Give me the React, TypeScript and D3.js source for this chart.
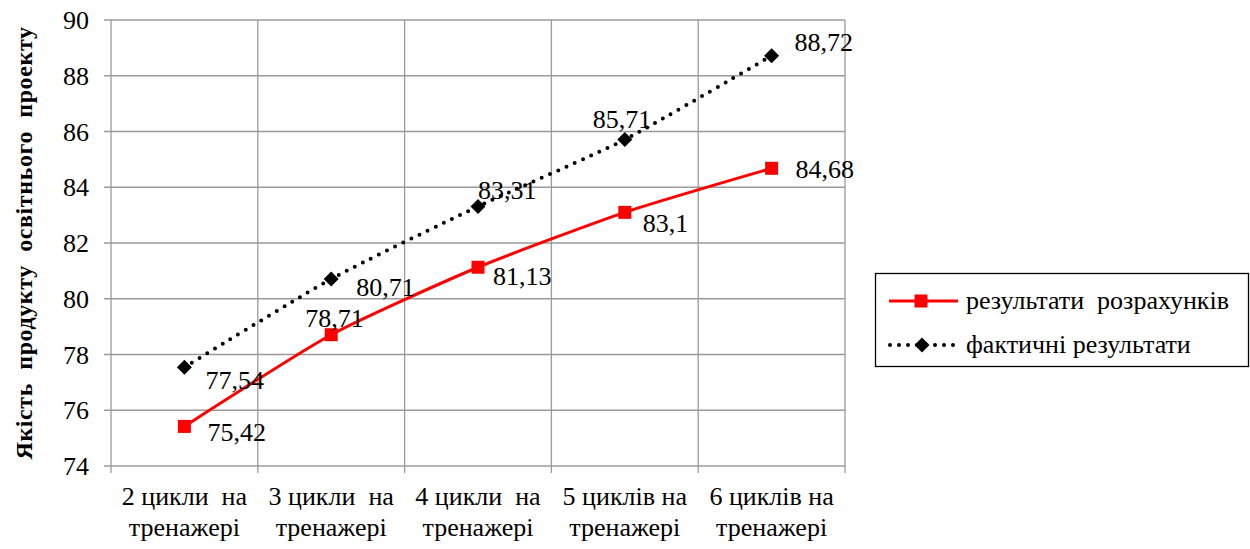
import React, { useRef, useEffect } from 'react';
import * as d3 from 'd3';

const categories = [
  ['2 цикли  на', 'тренажері'],
  ['3 цикли  на', 'тренажері'],
  ['4 цикли  на', 'тренажері'],
  ['5 циклів на', 'тренажері'],
  ['6 циклів на', 'тренажері'],
];
const calcValues = [75.42, 78.71, 81.13, 83.1, 84.68];
const actualValues = [77.54, 80.71, 83.31, 85.71, 88.72];
const calcLabels = ['75,42', '78,71', '81,13', '83,1', '84,68'];
const actualLabels = ['77,54', '80,71', '83,31', '85,71', '88,72'];
const yTicks = [74, 76, 78, 80, 82, 84, 86, 88, 90];
const seriesNames = ['результати  розрахунків', 'фактичні результати'];

// label nudges (px) relative to each point
const calcOffsets = [[23, 5], [-26, -17], [15, 9], [18, 11], [24, 1]];
const actualOffsets = [[21, 13], [25, 8], [0, -17], [-32, -21], [23, -14]];

const W = 1250;
const H = 549;
const FONT = 'Liberation Serif, Times New Roman, DejaVu Serif, serif';
const FS = '26px';

const App: React.FC = () => {
  const ref = useRef<SVGSVGElement>(null);

  useEffect(() => {
    if (!ref.current) return;
    const svg = d3.select(ref.current);
    svg.selectAll('*').remove();

    const m = { left: 111, right: 845, top: 20, bottom: 466 };

    const x = d3.scaleBand<number>()
      .domain(d3.range(categories.length))
      .range([m.left, m.right]);
    const y = d3.scaleLinear().domain([74, 90]).range([m.bottom, m.top]);
    const cx = (i: number) => (x(i) as number) + x.bandwidth() / 2;

    const grid = '#9a9a9a';

    // horizontal gridlines + y ticks
    svg.append('g')
      .selectAll('line')
      .data(yTicks)
      .enter()
      .append('line')
      .attr('x1', m.left - 7)
      .attr('x2', m.right)
      .attr('y1', d => y(d))
      .attr('y2', d => y(d))
      .attr('stroke', grid)
      .attr('stroke-width', 1.3);

    // vertical gridlines at category boundaries
    const bounds = d3.range(categories.length + 1).map(i =>
      i < categories.length ? (x(i) as number) : m.right);
    svg.append('g')
      .selectAll('line')
      .data(bounds)
      .enter()
      .append('line')
      .attr('x1', d => d)
      .attr('x2', d => d)
      .attr('y1', m.top)
      .attr('y2', m.bottom + 7)
      .attr('stroke', grid)
      .attr('stroke-width', 1.3);

    // y tick labels
    svg.append('g')
      .selectAll('text')
      .data(yTicks)
      .enter()
      .append('text')
      .attr('x', 89)
      .attr('y', d => y(d))
      .attr('dy', '0.35em')
      .attr('text-anchor', 'end')
      .style('font-family', FONT)
      .style('font-size', FS)
      .attr('fill', '#000')
      .text(d => d);

    // x category labels
    const xl = svg.append('g')
      .selectAll('text')
      .data(categories)
      .enter()
      .append('text')
      .attr('text-anchor', 'middle')
      .style('font-family', FONT)
      .style('font-size', FS)
      .style('white-space', 'pre')
      .attr('fill', '#000');
    xl.append('tspan')
      .attr('x', (_, i) => cx(i))
      .attr('y', 505)
      .text(d => d[0]);
    xl.append('tspan')
      .attr('x', (_, i) => cx(i))
      .attr('y', 536)
      .text(d => d[1]);

    // axis title
    svg.append('text')
      .attr('transform', `translate(32,${(m.top + m.bottom) / 2}) rotate(-90)`)
      .attr('text-anchor', 'middle')
      .style('font-family', FONT)
      .style('font-size', '24px')
      .style('font-weight', 'bold')
      .style('letter-spacing', '0.6px')
      .style('white-space', 'pre')
      .attr('fill', '#000')
      .text('Якість  продукту  освітнього  проекту');

    const line = d3.line<number>()
      .x((_, i) => cx(i))
      .y(d => y(d))
      .curve(d3.curveCardinal.tension(0.4));

    // actual (dotted black)
    svg.append('path')
      .datum(actualValues)
      .attr('d', line)
      .attr('fill', 'none')
      .attr('stroke', '#000')
      .attr('stroke-width', 4)
      .attr('stroke-linecap', 'round')
      .attr('stroke-dasharray', '0 9');

    // calculated (solid red)
    svg.append('path')
      .datum(calcValues)
      .attr('d', line)
      .attr('fill', 'none')
      .attr('stroke', '#ff0000')
      .attr('stroke-width', 3);

    const diamond = (s: number) => `M0,${-s}L${s},0L0,${s}L${-s},0Z`;

    svg.append('g')
      .selectAll('path')
      .data(actualValues)
      .enter()
      .append('path')
      .attr('transform', (d, i) => `translate(${cx(i)},${y(d)})`)
      .attr('d', diamond(7.5))
      .attr('fill', '#000');

    svg.append('g')
      .selectAll('rect')
      .data(calcValues)
      .enter()
      .append('rect')
      .attr('x', (_, i) => cx(i) - 6.5)
      .attr('y', d => y(d) - 6.5)
      .attr('width', 13)
      .attr('height', 13)
      .attr('fill', '#ff0000');

    // data labels
    const addLabels = (vals: number[], labels: string[], offs: number[][]) => {
      svg.append('g')
        .selectAll('text')
        .data(vals)
        .enter()
        .append('text')
        .attr('x', (_, i) => cx(i) + offs[i][0])
        .attr('y', (d, i) => y(d) + offs[i][1])
        .attr('dy', '0.35em')
        .style('font-family', FONT)
        .style('font-size', FS)
        .attr('fill', '#000')
        .text((_, i) => labels[i]);
    };
    addLabels(calcValues, calcLabels, calcOffsets);
    addLabels(actualValues, actualLabels, actualOffsets);

    // legend
    const lg = svg.append('g');
    lg.append('rect')
      .attr('x', 875.5)
      .attr('y', 273.5)
      .attr('width', 373)
      .attr('height', 93)
      .attr('fill', '#fff')
      .attr('stroke', '#000')
      .attr('stroke-width', 1.3);

    const r1 = 301;
    const r2 = 345;
    lg.append('line')
      .attr('x1', 889).attr('x2', 958)
      .attr('y1', r1).attr('y2', r1)
      .attr('stroke', '#ff0000').attr('stroke-width', 3);
    lg.append('rect')
      .attr('x', 921 - 6.5).attr('y', r1 - 6.5)
      .attr('width', 13).attr('height', 13)
      .attr('fill', '#ff0000');
    lg.append('line')
      .attr('x1', 890).attr('x2', 958)
      .attr('y1', r2).attr('y2', r2)
      .attr('stroke', '#000').attr('stroke-width', 4)
      .attr('stroke-linecap', 'round')
      .attr('stroke-dasharray', '0 9');
    lg.append('path')
      .attr('transform', `translate(922,${r2})`)
      .attr('d', diamond(7.5))
      .attr('fill', '#000');

    lg.selectAll('text.leg')
      .data(seriesNames)
      .enter()
      .append('text')
      .attr('x', 966)
      .attr('y', (_, i) => (i === 0 ? r1 : r2))
      .attr('dy', '0.3em')
      .style('font-family', FONT)
      .style('font-size', FS)
      .style('white-space', 'pre')
      .attr('fill', '#000')
      .text(d => d);
  }, []);

  return (
    <div style={{ position: 'absolute', left: 0, top: 0, width: W, height: H, background: '#fff' }}>
      <svg ref={ref} width={W} height={H} viewBox={`0 0 ${W} ${H}`} />
    </div>
  );
};

export default App;
